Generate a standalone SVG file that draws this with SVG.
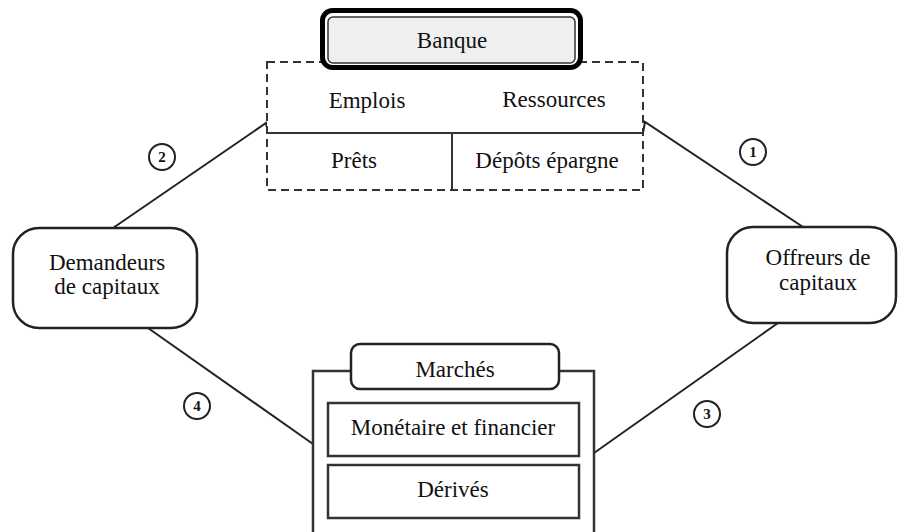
<svg xmlns="http://www.w3.org/2000/svg" width="899" height="532" viewBox="0 0 899 532">
<style>
text{font-family:"Liberation Serif","Times New Roman",serif;font-size:23px;fill:#111;text-anchor:middle}
.num{font-size:15px;font-weight:bold}
.ln{fill:none;stroke:#222;stroke-width:2}
.box{fill:#fff;stroke:#222;stroke-width:2.5}
.sq{fill:#fff;stroke:#333;stroke-width:2.5}
.circ{fill:#fff;stroke:#222;stroke-width:2}
</style>
<rect width="899" height="532" fill="#fff"/>
<g id="connectors">
<polyline class="ln" points="113,228 266,123 268,133"/>
<polyline class="ln" points="643,133 645,122 803,227"/>
<line class="ln" x1="148" y1="328" x2="313" y2="444"/>
<line class="ln" x1="594" y1="453" x2="778" y2="323"/>
</g>
<g id="labels">
<circle class="circ" cx="753" cy="152" r="13"/><text class="num" x="753" y="157">1</text>
<circle class="circ" cx="162" cy="157" r="13"/><text class="num" x="162" y="162">2</text>
<circle class="circ" cx="707" cy="414" r="13"/><text class="num" x="707" y="419">3</text>
<circle class="circ" cx="197" cy="406" r="13"/><text class="num" x="197" y="411">4</text>
</g>
<g id="banque-table">
<rect x="267" y="62" width="376" height="128" fill="#fff" stroke="#333" stroke-width="2" stroke-dasharray="8,5"/>
<line x1="267" y1="133" x2="643" y2="133" stroke="#333" stroke-width="2"/>
<line x1="452" y1="133" x2="452" y2="190" stroke="#333" stroke-width="2"/>
<text x="367" y="108">Emplois</text>
<text x="554" y="107">Ressources</text>
<text x="354" y="168">Prêts</text>
<text x="547" y="168">Dépôts épargne</text>
</g>
<g id="banque">
<rect x="322.5" y="10.5" width="258" height="57" rx="10" fill="#fff" stroke="#000" stroke-width="5"/>
<rect x="328" y="17" width="247" height="46" rx="5" fill="#efefef" stroke="#333" stroke-width="1.5"/>
<text x="452" y="48">Banque</text>
</g>
<g id="demandeurs">
<rect class="box" x="13" y="228" width="184" height="100" rx="26"/>
<text x="107" y="270">Demandeurs</text>
<text x="107" y="294">de capitaux</text>
</g>
<g id="offreurs">
<rect class="box" x="727" y="227" width="169" height="96" rx="26"/>
<text x="818" y="265">Offreurs de</text>
<text x="818" y="290">capitaux</text>
</g>
<g id="marches">
<rect class="sq" x="313" y="371" width="281" height="165"/>
<rect class="box" x="351" y="344" width="208" height="45" rx="9"/>
<text x="455" y="377">Marchés</text>
<rect class="sq" x="328" y="403" width="251" height="53"/>
<text x="453" y="435">Monétaire et financier</text>
<rect class="sq" x="328" y="465" width="251" height="53"/>
<text x="453" y="497">Dérivés</text>
</g>
</svg>
